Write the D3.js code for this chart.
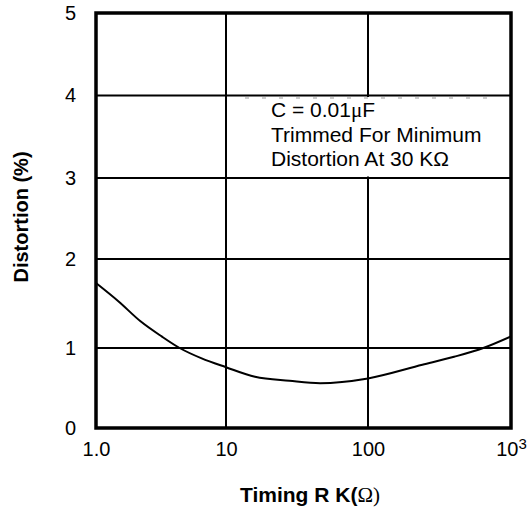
<!DOCTYPE html>
<html>
<head>
<meta charset="utf-8">
<script src="https://cdn.jsdelivr.net/npm/d3@7"></script>
<style>
  body { margin: 0; background: #fff; }
  svg { display: block; }
  text { font-family: "Liberation Sans", Arial, sans-serif; fill: #000; }
</style>
</head>
<body>
<svg id="chart" width="529" height="514"></svg>
<script>
// Distortion vs timing resistor
var resistanceK = [1.0, 1.5, 2.2, 3.2, 4.4, 6.5, 10, 16, 28, 46, 100, 240, 400, 640, 1000];
var distortionPct = [1.73, 1.52, 1.30, 1.13, 1.00, 0.87, 0.76, 0.64, 0.59, 0.56, 0.62, 0.79, 0.89, 1.00, 1.13];

var xTicks = [1, 10, 100, 1000];
var xTickLabels = ['1.0', '10', '100', '10'];
var yTicks = [0, 1, 2, 3, 4, 5];

var noteLines = ['C = 0.01', 'Trimmed For Minimum', 'Distortion At 30 K\u03A9'];

var svg = d3.select('#chart');

//The printed grid is not evenly spaced, so map each tick to where it sits
var x = d3.scaleLog()
    .domain(xTicks)
    .range([96, 226, 368, 511]);

var y = d3.scaleLinear()
    .domain(yTicks)
    .range([428, 348, 259, 178, 95.5, 13]);

var grid = svg.append('g').attr('id', 'grid');

grid.selectAll('.hline')
    .data(yTicks.slice(1, -1))
    .enter().append('line')
    .attr('class', 'hline')
    .attr('x1', x(1)).attr('x2', x(1000))
    .attr('y1', function(d) { return y(d); })
    .attr('y2', function(d) { return y(d); })
    .attr('stroke', '#000')
    .attr('stroke-width', 2);

grid.selectAll('.vline')
    .data(xTicks.slice(1, -1))
    .enter().append('line')
    .attr('class', 'vline')
    .attr('y1', y(0)).attr('y2', y(5))
    .attr('x1', function(d) { return x(d); })
    .attr('x2', function(d) { return x(d); })
    .attr('stroke', '#000')
    .attr('stroke-width', 2);

//Note box blanks out the grid behind the text
svg.append('rect')
    .attr('x', 242)
    .attr('y', y(4) + 1.5)
    .attr('width', 252)
    .attr('height', y(3) - y(4) - 3)
    .attr('fill', '#fff');

svg.append('line')
    .attr('x1', 245).attr('x2', 492)
    .attr('y1', y(4) + 2.5).attr('y2', y(4) + 2.5)
    .attr('stroke', '#999')
    .attr('stroke-width', 1)
    .attr('stroke-dasharray', '4,13');

svg.append('rect')
    .attr('x', x(1))
    .attr('y', y(5))
    .attr('width', x(1000) - x(1))
    .attr('height', y(0) - y(5))
    .attr('fill', 'none')
    .attr('stroke', '#000')
    .attr('stroke-width', 3.5);

var line = d3.line()
    .x(function(d) { return x(d[0]); })
    .y(function(d) { return y(d[1]); })
    .curve(d3.curveMonotoneX);

svg.append('path')
    .datum(d3.zip(resistanceK, distortionPct))
    .attr('d', line)
    .attr('fill', 'none')
    .attr('stroke', '#000')
    .attr('stroke-width', 2);

// Axes: ticks only as labels, the frame is drawn above
var yAxis = svg.append('g')
    .attr('transform', 'translate(' + x(1) + ',0)')
    .call(d3.axisLeft(y).tickValues(yTicks).tickSize(0).tickPadding(20).tickFormat(d3.format('d')));

var xAxis = svg.append('g')
    .attr('transform', 'translate(0,' + y(0) + ')')
    .call(d3.axisBottom(x).tickValues(xTicks).tickSize(0).tickPadding(14)
        .tickFormat(function(d, i) { return xTickLabels[i]; }));

[xAxis, yAxis].forEach(function(a) {
    a.select('.domain').remove();
    a.selectAll('text')
        .style('font-family', '"Liberation Sans", Arial, sans-serif')
        .style('font-size', '20px')
        .attr('fill', '#000');
});

xAxis.selectAll('text')
    .filter(function(d) { return d === 1000; })
    .append('tspan')
    .attr('dy', '-0.45em')
    .style('font-size', '15px')
    .text('3');

svg.append('text')
    .attr('transform', 'translate(28,' + 217 + ') rotate(-90)')
    .attr('text-anchor', 'middle')
    .style('font-size', '20px')
    .style('font-weight', 'bold')
    .text('Distortion (%)');

var xTitle = svg.append('text')
    .attr('x', 310)
    .attr('y', 502)
    .attr('text-anchor', 'middle')
    .style('font-size', '21px')
    .style('font-weight', 'bold');
xTitle.append('tspan').text('Timing R K(');
xTitle.append('tspan')
    .style('font-family', '"Liberation Serif", "Times New Roman", serif')
    .style('font-weight', 'normal')
    .text('\u03A9)');

var note = svg.append('text')
    .style('font-size', '21px');

note.selectAll('tspan')
    .data(noteLines)
    .enter().append('tspan')
    .attr('x', 271)
    .attr('y', function(d, i) { return 117 + i * 24.5; })
    .text(function(d) { return d; });

note.select('tspan')
    .append('tspan')
    .style('font-family', '"Liberation Serif", "Times New Roman", serif')
    .text('\u03BC');
note.select('tspan')
    .append('tspan')
    .text('F');
</script>
</body>
</html>
